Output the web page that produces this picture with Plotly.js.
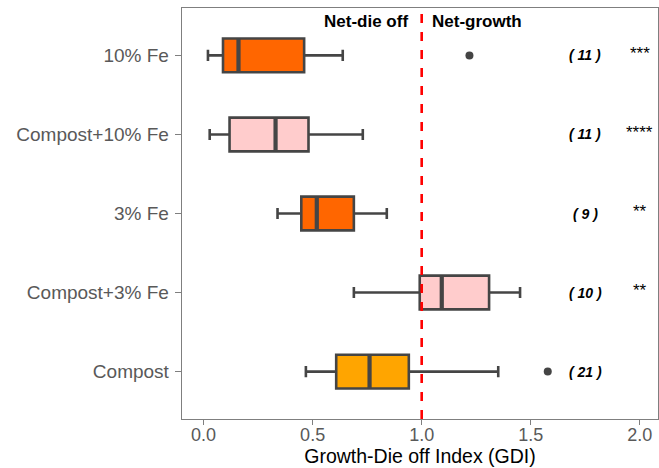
<!DOCTYPE html>
<html>
<head>
<meta charset="utf-8">
<script src="https://cdn.plot.ly/plotly-3.0.1.min.js"></script>
<style>html,body{margin:0;padding:0;background:#fff;}#chart{width:659px;height:468px;}</style>
</head>
<body>
<div id="chart"></div>
<script>
// Data
const categories = ['10% Fe', 'Compost+10% Fe', '3% Fe', 'Compost+3% Fe', 'Compost'];
const lowerWhisker = [0.02, 0.028, 0.339, 0.689, 0.469];
const q1Values     = [0.089, 0.119, 0.448, 0.991, 0.608];
const medianValues = [0.160, 0.330, 0.519, 1.092, 0.761];
const q3Values     = [0.461, 0.481, 0.689, 1.309, 0.941];
const upperWhisker = [0.638, 0.730, 0.840, 1.451, 1.351];
const fillColors   = ['#FF6600', '#FFCCCC', '#FF6600', '#FFCCCC', '#FFA500'];
const outlierCats  = ['10% Fe', 'Compost'];
const outlierVals  = [1.219, 1.578];
const nLabels      = ['( 11 )', '( 11 )', '( 9 )', '( 10 )', '( 21 )'];
const sigLabels    = ['***', '****', '**', '**', ''];
const refLine      = 1.0;
const xTicks       = [0, 0.5, 1.0, 1.5, 2.0];
const xTickText    = ['0.0', '0.5', '1.0', '1.5', '2.0'];

const lineCol = '#454545';
const traces = categories.map((c, i) => ({
  type: 'box', orientation: 'h',
  y: [c], q1: [q1Values[i]], median: [medianValues[i]], q3: [q3Values[i]],
  lowerfence: [lowerWhisker[i]], upperfence: [upperWhisker[i]],
  fillcolor: fillColors[i], line: {color: lineCol, width: 2.6},
  whiskerwidth: 0.33, boxpoints: false, hoverinfo: 'skip', showlegend: false
}));
// thicker median bars (ggplot draws medians heavier than the box outline)
categories.forEach((c, i) => traces.push({
  type: 'box', orientation: 'h',
  y: [c], q1: [medianValues[i]], median: [medianValues[i]], q3: [medianValues[i]],
  lowerfence: [medianValues[i]], upperfence: [medianValues[i]],
  fillcolor: 'rgba(0,0,0,0)', line: {color: lineCol, width: 4.2},
  whiskerwidth: 0, boxpoints: false, hoverinfo: 'skip', showlegend: false
}));
traces.push({
  type: 'scatter', mode: 'markers', x: outlierVals, y: outlierCats,
  marker: {color: '#444444', size: 8}, showlegend: false, hoverinfo: 'skip'
});

const annotations = [];
categories.forEach((c, i) => {
  annotations.push({x: 1.749, y: c, xref: 'x', yref: 'y', text: '<b><i>' + nLabels[i] + '</i></b>',
    showarrow: false, font: {family: 'Liberation Sans, Arial', size: 14, color: '#000'}, xanchor: 'center', yanchor: 'middle'});
  if (sigLabels[i]) annotations.push({x: 2.0, y: c, xref: 'x', yref: 'y', text: sigLabels[i], yshift: 2,
    showarrow: false, font: {family: 'Liberation Sans, Arial', size: 17, color: '#000'}, xanchor: 'center', yanchor: 'middle'});
});
annotations.push({x: 0.947, y: 0.967, xref: 'x', yref: 'paper', text: '<b>Net-die off</b>', showarrow: false,
  xanchor: 'right', yanchor: 'middle', font: {family: 'Liberation Sans, Arial', size: 17, color: '#000'}});
annotations.push({x: 1.036, y: 0.967, xref: 'x', yref: 'paper', text: '<b>Net-growth</b>', showarrow: false,
  xanchor: 'left', yanchor: 'middle', font: {family: 'Liberation Sans, Arial', size: 17, color: '#000'}});

const layout = {
  width: 659, height: 468,
  margin: {l: 182, r: 1, t: 8, b: 49},
  paper_bgcolor: '#fff', plot_bgcolor: '#fff',
  boxmode: 'overlay', boxgap: 0.39,
  font: {family: 'Liberation Sans, Arial', color: '#4D4D4D'},
  xaxis: {
    range: [-0.099, 2.0835], tickvals: xTicks, ticktext: xTickText,
    showgrid: false, zeroline: false, showline: true, mirror: true, linecolor: '#7F7F7F', linewidth: 1.3,
    ticks: 'outside', ticklen: 5, tickcolor: '#7F7F7F', tickwidth: 1.3,
    tickfont: {size: 18, color: '#595959'}, ticklabelstandoff: -6,
    title: {text: 'Growth-Die off Index (GDI)', font: {size: 19.5, color: '#000'}, standoff: 4}
  },
  yaxis: {
    type: 'category', categoryorder: 'array', categoryarray: categories.slice().reverse(),
    range: [-0.6, 4.6],
    showgrid: false, zeroline: false, showline: true, mirror: true, linecolor: '#7F7F7F', linewidth: 1.3,
    ticks: 'outside', ticklen: 6, tickcolor: '#7F7F7F', tickwidth: 1.3,
    tickfont: {size: 19, color: '#595959'}, ticklabelstandoff: 2
  },
  shapes: [{type: 'line', xref: 'x', yref: 'paper', x0: refLine, x1: refLine, y0: 0, y1: 1,
    line: {color: '#FF0000', width: 2.6, dash: 'dash'}}],
  annotations: annotations
};
Plotly.newPlot('chart', traces, layout, {displayModeBar: false, staticPlot: true});
</script>
</body>
</html>
